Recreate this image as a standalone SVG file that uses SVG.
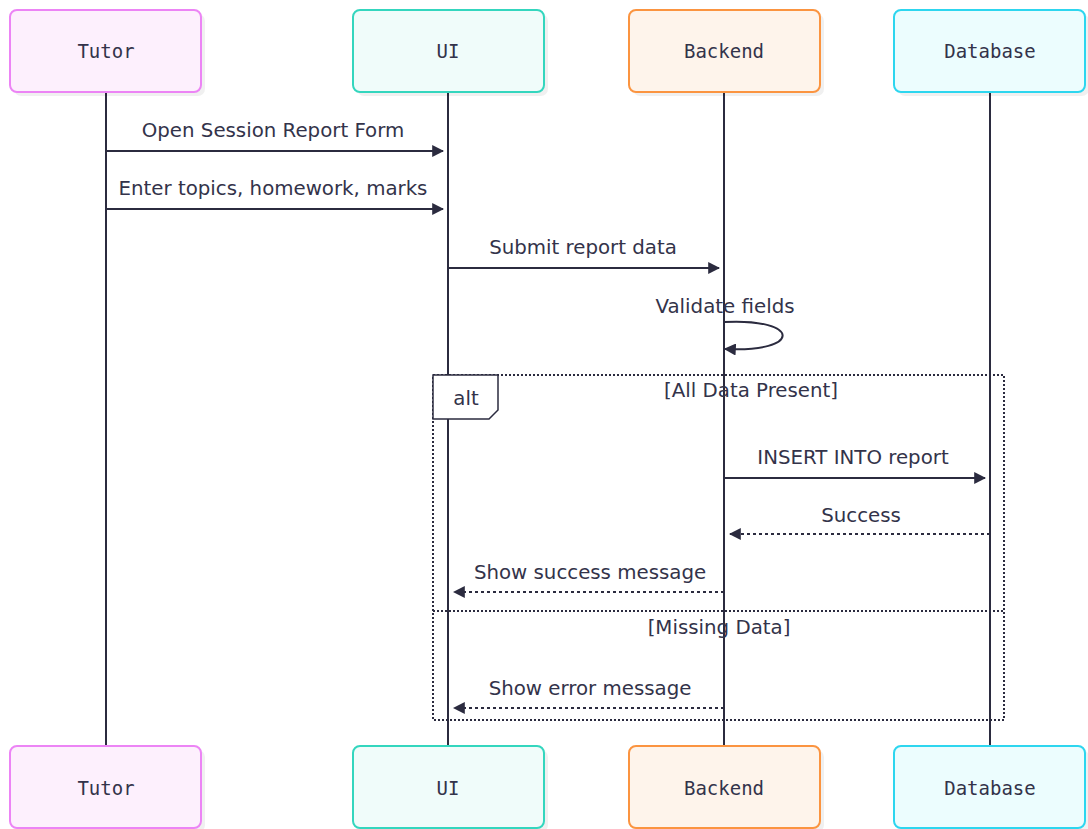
<svg xmlns="http://www.w3.org/2000/svg" width="1088" height="829" viewBox="0 0 1088 829">
<style>
.box{stroke-width:2}
.shadow{fill:#000;opacity:0.06}
.pname{font-family:"DejaVu Sans Mono","Liberation Mono",monospace;font-size:19px;fill:#33334a;text-anchor:middle;dominant-baseline:central}
.life{stroke:#2b2b3f;stroke-width:2;fill:none}
.msg{stroke:#2b2b3f;stroke-width:2;fill:none}
.dash{stroke-dasharray:3,3}
.lbl{font-family:"DejaVu Sans","Noto Sans",sans-serif;font-size:19.8px;fill:#33334a;text-anchor:middle}
.frame{stroke:#2b2b3f;stroke-width:2;fill:none;stroke-dasharray:2,2}
</style>
<defs>
<marker id="arr" viewBox="0 0 10 10" refX="9" refY="5" markerWidth="12" markerHeight="12" markerUnits="userSpaceOnUse" orient="auto">
<path d="M0,0 L10,5 L0,10 z" fill="#2b2b3f"/>
</marker>
</defs>
<g id="lifelines">
<line class="life" x1="106" y1="92" x2="106" y2="746"/>
<line class="life" x1="448" y1="92" x2="448" y2="746"/>
<line class="life" x1="724" y1="92" x2="724" y2="746"/>
<line class="life" x1="990" y1="92" x2="990" y2="746"/>
</g>
<g id="p-tutor">
<rect class="shadow" x="14" y="14" width="191" height="82" rx="7"/>
<rect class="box" x="10" y="10" width="191" height="82" rx="7" fill="#fdf0fd" stroke="#ec84f5"/>
<text class="pname" x="106" y="51">Tutor</text>
<rect class="shadow" x="14" y="750" width="191" height="82" rx="7"/>
<rect class="box" x="10" y="746" width="191" height="82" rx="7" fill="#fdf0fd" stroke="#ec84f5"/>
<text class="pname" x="106" y="788">Tutor</text>
</g>
<g id="p-ui">
<rect class="shadow" x="357" y="14" width="191" height="82" rx="7"/>
<rect class="box" x="353" y="10" width="191" height="82" rx="7" fill="#f0fcfa" stroke="#34d6be"/>
<text class="pname" x="448" y="51">UI</text>
<rect class="shadow" x="357" y="750" width="191" height="82" rx="7"/>
<rect class="box" x="353" y="746" width="191" height="82" rx="7" fill="#f0fcfa" stroke="#34d6be"/>
<text class="pname" x="448" y="788">UI</text>
</g>
<g id="p-backend">
<rect class="shadow" x="633" y="14" width="191" height="82" rx="7"/>
<rect class="box" x="629" y="10" width="191" height="82" rx="7" fill="#fef4eb" stroke="#fb9440"/>
<text class="pname" x="724" y="51">Backend</text>
<rect class="shadow" x="633" y="750" width="191" height="82" rx="7"/>
<rect class="box" x="629" y="746" width="191" height="82" rx="7" fill="#fef4eb" stroke="#fb9440"/>
<text class="pname" x="724" y="788">Backend</text>
</g>
<g id="p-database">
<rect class="shadow" x="898" y="14" width="191" height="82" rx="7"/>
<rect class="box" x="894" y="10" width="191" height="82" rx="7" fill="#ecfdfe" stroke="#2dd6ef"/>
<text class="pname" x="990" y="51">Database</text>
<rect class="shadow" x="898" y="750" width="191" height="82" rx="7"/>
<rect class="box" x="894" y="746" width="191" height="82" rx="7" fill="#ecfdfe" stroke="#2dd6ef"/>
<text class="pname" x="990" y="788">Database</text>
</g>
<g id="alt-frame">
<rect class="frame" x="433" y="375" width="571" height="345"/>
<line class="frame" x1="433" y1="611" x2="1004" y2="611"/>
<path d="M433,375 H498 V410 L489,419 H433 Z" fill="#fff" stroke="#2b2b3f" stroke-width="1.5"/>
<text class="lbl" x="466" y="405">alt</text>
<text class="lbl" x="751" y="397">[All Data Present]</text>
<text class="lbl" x="719" y="634">[Missing Data]</text>
</g>
<g id="connectors">
<line class="msg" x1="106" y1="151" x2="443" y2="151" marker-end="url(#arr)"/>
<text class="lbl" x="273" y="137">Open Session Report Form</text>
<line class="msg" x1="106" y1="209" x2="443" y2="209" marker-end="url(#arr)"/>
<text class="lbl" x="273" y="195">Enter topics, homework, marks</text>
<line class="msg" x1="448" y1="268" x2="719" y2="268" marker-end="url(#arr)"/>
<text class="lbl" x="583" y="254">Submit report data</text>
<path class="msg" d="M724,322 C802,318 802,353 725,349" marker-end="url(#arr)"/>
<text class="lbl" x="725" y="313">Validate fields</text>
<line class="msg" x1="724" y1="478" x2="985" y2="478" marker-end="url(#arr)"/>
<text class="lbl" x="853" y="464">INSERT INTO report</text>
<line class="msg dash" x1="990" y1="534" x2="730" y2="534" marker-end="url(#arr)"/>
<text class="lbl" x="861" y="522">Success</text>
<line class="msg dash" x1="724" y1="592" x2="454" y2="592" marker-end="url(#arr)"/>
<text class="lbl" x="590" y="579">Show success message</text>
<line class="msg dash" x1="724" y1="708" x2="454" y2="708" marker-end="url(#arr)"/>
<text class="lbl" x="590" y="695">Show error message</text>
</g>
</svg>
